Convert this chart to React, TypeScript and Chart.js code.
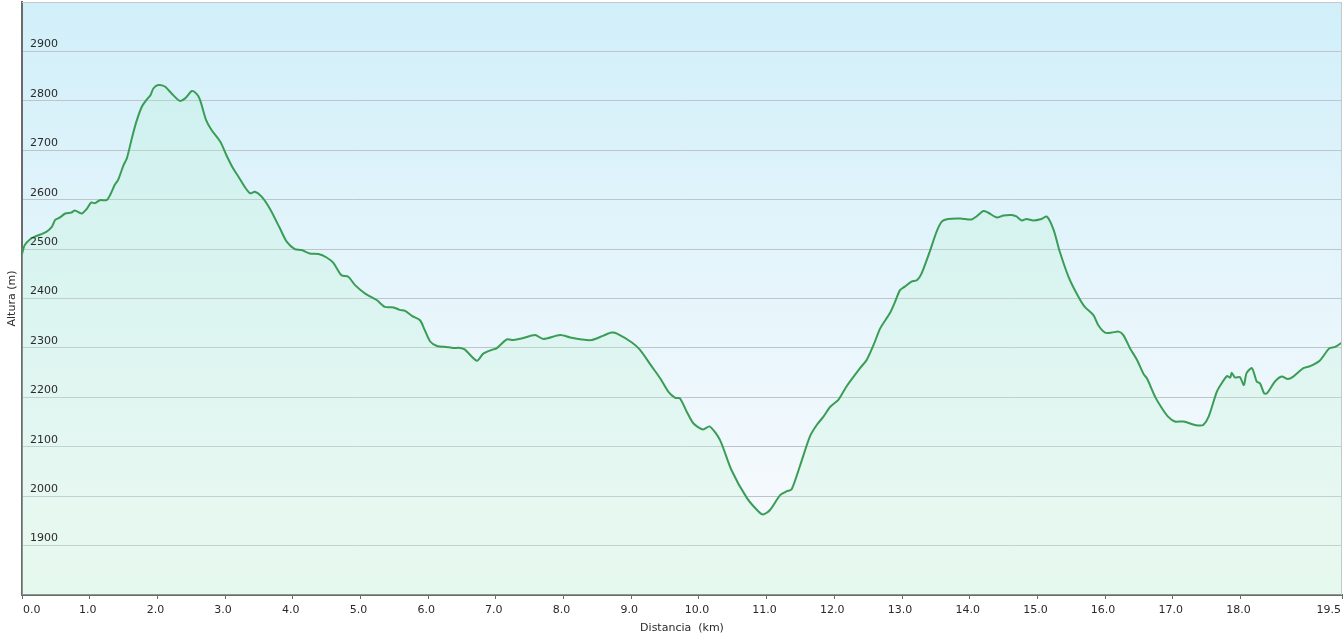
import { useEffect, useRef } from "react";
import { Chart, registerables } from "chart.js";

Chart.register(...registerables);

// Distance along the route (km)
const distanceKm = [
  0.0, 0.04, 0.12, 0.19, 0.36, 0.44, 0.49, 0.56, 0.64, 0.73, 0.78, 0.88, 0.96, 1.02, 1.08, 1.15, 1.25, 1.3,
  1.37, 1.42, 1.5, 1.55, 1.62, 1.69, 1.77, 1.84, 1.9, 1.94, 2.01, 2.11, 2.21, 2.33, 2.41, 2.51, 2.58, 2.63,
  2.72, 2.8, 2.93, 3.02, 3.12, 3.2, 3.29, 3.37, 3.44, 3.54, 3.66, 3.81, 3.91, 4.03, 4.13, 4.25, 4.38, 4.5,
  4.6, 4.72, 4.82, 4.92, 5.07, 5.24, 5.36, 5.49, 5.58, 5.66, 5.76, 5.88, 5.95, 6.03, 6.13, 6.27, 6.37, 6.47,
  6.54, 6.72, 6.81, 6.94, 7.01, 7.16, 7.26, 7.38, 7.58, 7.7, 7.95, 8.1, 8.27, 8.42, 8.59, 8.71, 8.79, 9.01,
  9.13, 9.3, 9.43, 9.55, 9.65, 9.72, 9.82, 9.92, 10.06, 10.16, 10.31, 10.48, 10.71, 10.88, 10.95, 11.05,
  11.2, 11.3, 11.37, 11.49, 11.64, 11.74, 11.84, 11.94, 12.06, 12.18, 12.38, 12.48, 12.58, 12.68, 12.82,
  12.9, 12.97, 13.04, 13.14, 13.22, 13.29, 13.41, 13.51, 13.59, 13.68, 13.86, 14.03, 14.1, 14.2, 14.27,
  14.4, 14.5, 14.62, 14.69, 14.77, 14.84, 14.94, 15.06, 15.14, 15.24, 15.33, 15.46, 15.6, 15.7, 15.83,
  15.9, 16.0, 16.1, 16.2, 16.27, 16.37, 16.47, 16.57, 16.62, 16.74, 16.84, 16.93, 17.03, 17.16, 17.3,
  17.38, 17.45, 17.53, 17.65, 17.72, 17.8, 17.85, 17.87, 17.92, 17.99, 18.05, 18.09, 18.17, 18.24, 18.29,
  18.35, 18.39, 18.51, 18.61, 18.7, 18.78, 18.93, 19.03, 19.17, 19.31, 19.4, 19.5,
];

// Altitude (m)
const altitudeM = [
  2490, 2508, 2520, 2525, 2535, 2545, 2559, 2564, 2572, 2574, 2578, 2572, 2582, 2594, 2593, 2599, 2599, 2609,
  2630, 2640, 2670, 2684, 2723, 2758, 2788, 2802, 2812, 2825, 2832, 2829, 2815, 2800, 2805, 2820, 2814, 2802,
  2761, 2741, 2717, 2690, 2663, 2646, 2626, 2613, 2616, 2606, 2582, 2542, 2515, 2500, 2498, 2491, 2490, 2483,
  2472, 2447, 2444, 2427, 2410, 2397, 2383, 2382, 2377, 2375, 2365, 2356, 2336, 2313, 2304, 2302, 2300, 2300,
  2297, 2274, 2288, 2296, 2299, 2317, 2316, 2319, 2326, 2318, 2326, 2321, 2317, 2316, 2325, 2331, 2329, 2311,
  2296, 2263, 2238, 2211, 2199, 2198, 2171, 2147, 2135, 2141, 2114, 2053, 1996, 1969, 1963, 1972,
  2002, 2010, 2014, 2060, 2121, 2144, 2161, 2181, 2195, 2222, 2259, 2276, 2306, 2340, 2370,
  2394, 2417, 2424, 2434, 2437, 2451, 2495, 2535, 2556, 2561, 2562, 2560, 2566, 2577, 2574,
  2564, 2568, 2569, 2566, 2558, 2561, 2558, 2561, 2566, 2539, 2495, 2444, 2405, 2383, 2366,
  2346, 2331, 2331, 2333, 2326, 2299, 2276, 2247, 2238, 2201, 2178, 2161, 2151, 2151, 2145,
  2143, 2144, 2161, 2211, 2228, 2243, 2240, 2250, 2240, 2241, 2225, 2249, 2259, 2232, 2228,
  2208, 2208, 2232, 2242, 2237, 2242, 2259, 2263, 2274, 2299, 2302, 2311,
];

// Axis ticks
const xTickValues = [0, 1, 2, 3, 4, 5, 6, 7, 8, 9, 10, 11, 12, 13, 14, 15, 16, 17, 18, 19.5];
const yMin = 1800;
const yMax = 3000;
const yStep = 100;
const yHiddenLabels = [1800, 3000];

const FONT_FAMILY = '"DejaVu Sans", Verdana, sans-serif';
const TEXT_COLOR = "#2a2a2a";

const decorPlugin = {
  id: "decor",
  beforeDraw(chart: any) {
    const { ctx, chartArea: a } = chart;
    if (!a) return;
    const g = ctx.createLinearGradient(0, a.top, 0, a.bottom);
    g.addColorStop(0, "#d1eff9");
    g.addColorStop(0.82, "#f4f9fd");
    g.addColorStop(1, "#f2fbf7");
    ctx.save();
    ctx.fillStyle = g;
    ctx.fillRect(a.left, a.top, a.right - a.left, a.bottom - a.top);
    ctx.restore();
  },
  afterDraw(chart: any) {
    const { ctx, chartArea: a } = chart;
    const xs = chart.scales.x;
    ctx.save();
    // top / right frame
    ctx.strokeStyle = "#c3c9cc";
    ctx.lineWidth = 1;
    ctx.beginPath();
    ctx.moveTo(a.left, a.top + 0.5);
    ctx.lineTo(a.right - 0.5, a.top + 0.5);
    ctx.lineTo(a.right - 0.5, a.bottom);
    ctx.stroke();
    // x tick labels
    ctx.font = `11px ${FONT_FAMILY}`;
    ctx.fillStyle = TEXT_COLOR;
    ctx.textBaseline = "middle";
    const n = xs.ticks.length;
    xs.ticks.forEach((t: any, i: number) => {
      const px = xs.getPixelForValue(t.value);
      let align: CanvasTextAlign = "center";
      let dx = -2;
      if (i === 0) {
        align = "left";
        dx = 1;
      } else if (i === n - 1) {
        align = "right";
        dx = -1;
      }
      ctx.textAlign = align;
      ctx.fillText(t.value.toFixed(1), px + dx, xs.top + 15);
    });
    ctx.restore();
  },
};

export default function App() {
  const canvasRef = useRef<HTMLCanvasElement | null>(null);

  useEffect(() => {
    if (!canvasRef.current) return;
    const points = distanceKm.map((d, i) => ({ x: d, y: altitudeM[i] }));
    const chart = new Chart(canvasRef.current, {
      type: "line",
      data: {
        datasets: [
          {
            data: points,
            borderColor: "#3a9d56",
            borderWidth: 2,
            pointRadius: 0,
            tension: 0.25,
            fill: "start",
            backgroundColor: (c: any) => {
              const a = c.chart.chartArea;
              if (!a) return "rgba(160,235,195,0.25)";
              const g = c.chart.ctx.createLinearGradient(0, a.top, 0, a.bottom);
              g.addColorStop(0, "rgba(170,240,200,0.2)");
              g.addColorStop(1, "rgba(205,245,218,0.32)");
              return g;
            },
          },
        ],
      },
      options: {
        animation: false,
        responsive: false,
        maintainAspectRatio: false,
        layout: { padding: { top: 2, right: 2, left: 0, bottom: 0 } },
        plugins: {
          legend: { display: false },
          tooltip: { enabled: false },
        },
        scales: {
          x: {
            type: "linear",
            min: 0,
            max: 19.5,
            afterBuildTicks: (s: any) => {
              s.ticks = xTickValues.map((v) => ({ value: v }));
            },
            afterFit: (s: any) => {
              s.height = 46;
              s.paddingLeft = 0;
              s.paddingRight = 0;
            },
            ticks: { display: false },
            grid: {
              display: true,
              drawOnChartArea: false,
              drawTicks: true,
              tickLength: 4,
              tickColor: "#6b6b6b",
              tickWidth: 1,
            },
            border: { color: "#6b6b6b", width: 2 },
            title: {
              display: true,
              text: "Distancia  (km)",
              color: TEXT_COLOR,
              font: { family: FONT_FAMILY, size: 11 },
              padding: { top: 0, bottom: 6 },
            },
          },
          y: {
            type: "linear",
            min: yMin,
            max: yMax,
            afterFit: (s: any) => {
              s.width = 22;
              s.paddingTop = 0;
              s.paddingBottom = 0;
            },
            ticks: {
              z: 1,
              stepSize: yStep,
              mirror: true,
              padding: 8,
              labelOffset: -7,
              color: TEXT_COLOR,
              font: { family: FONT_FAMILY, size: 11 },
              callback: (v: any) => (yHiddenLabels.includes(Number(v)) ? "" : String(v)),
            },
            grid: { color: "#bcc6ca", lineWidth: 1, drawTicks: false },
            border: { color: "#6b6b6b", width: 2 },
            title: {
              display: true,
              text: "Altura (m)",
              color: TEXT_COLOR,
              font: { family: FONT_FAMILY, size: 11 },
              padding: { top: 6, bottom: 0 },
            },
          },
        },
      },
      plugins: [decorPlugin],
    });
    return () => chart.destroy();
  }, []);

  return (
    <div style={{ position: "fixed", left: 0, top: 0, width: 1344, height: 641 }}>
      <canvas ref={canvasRef} width={1344} height={641} style={{ display: "block" }} />
    </div>
  );
}
